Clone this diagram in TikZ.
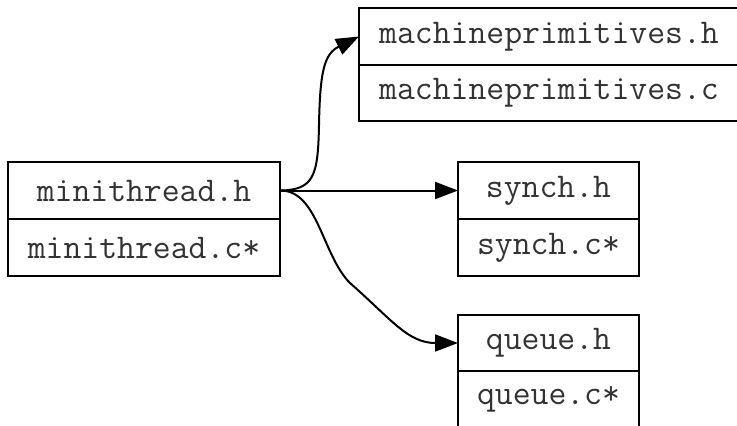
\documentclass[tikz,border=0pt]{standalone}
\usetikzlibrary{arrows.meta}
\tikzset{
  filebox/.style={draw=black, line width=2pt, outer sep=0pt, inner sep=0pt,
    font=\ttfamily\fontsize{34.7}{35}\selectfont, text=black!80},
  dep/.style={line width=2pt, -{Triangle[length=23pt,width=17pt]}}
}
\begin{document}
\begin{tikzpicture}[x=1pt,y=-1pt]
\useasboundingbox (0,0) rectangle (737,426);
\clip (0,0) rectangle (737,426);
\fill[white] (0,0) rectangle (737,426);
% minithread
\node[filebox, minimum width=272pt, minimum height=57pt] (mth) at (144,190.5) {minithread.h};
\node[filebox, minimum width=272pt, minimum height=57pt] (mtc) at (144,247.5) {minithread.c*};
% machineprimitives
\node[filebox, minimum width=380pt, minimum height=57pt] (mph) at (549,36.5) {machineprimitives.h};
\node[filebox, minimum width=380pt, minimum height=56pt] (mpc) at (549,93) {machineprimitives.c};
% synch
\node[filebox, minimum width=181pt, minimum height=57pt] (sh) at (548.5,190.5) {synch.h};
\node[filebox, minimum width=181pt, minimum height=57pt] (sc) at (548.5,247.5) {synch.c*};
% queue
\node[filebox, minimum width=181pt, minimum height=56pt] (qh) at (548.5,343) {queue.h};
\node[filebox, minimum width=181pt, minimum height=57pt] (qc) at (548.5,399.5) {queue.c*};
% edges
\draw[dep] (mth.east) -- (sh.west);
\draw[dep] (mth.east) .. controls (314,190) and (318,176) .. (319,125)
  .. controls (320,72) and (324,54) .. (mph.west);
\draw[dep] (mth.east) .. controls (318,190) and (322,255) .. (350,283)
  .. controls (392,320) and (408,343) .. (qh.west);
\end{tikzpicture}
\end{document}
